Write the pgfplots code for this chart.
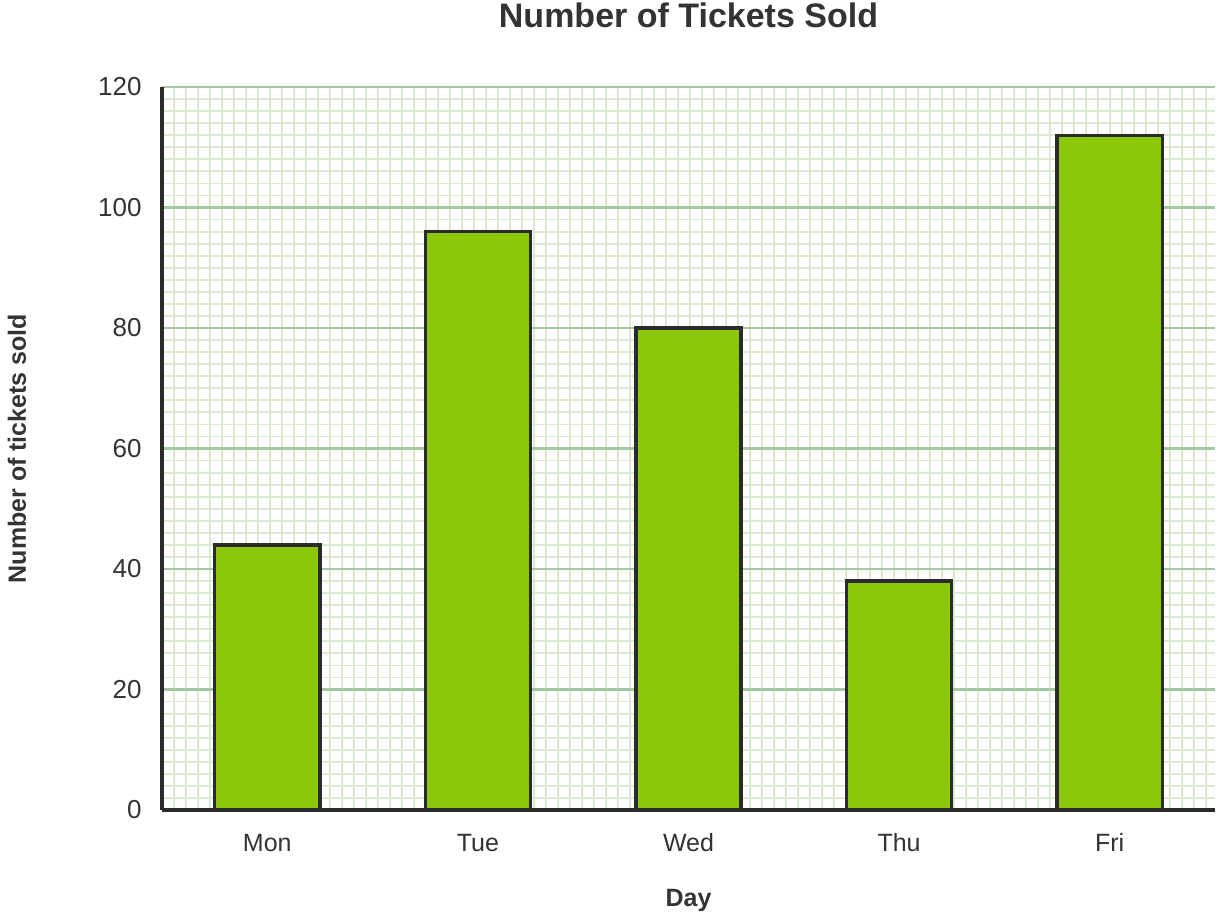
\documentclass[border=0pt]{standalone}
\usepackage{fontspec}
\setmainfont{Liberation Sans}
\usepackage{pgfplots}
\pgfplotsset{compat=1.18}
\definecolor{barfill}{HTML}{8BC80A}
\definecolor{bardraw}{HTML}{2B2B2B}
\definecolor{majgrid}{HTML}{A3C9A3}
\definecolor{mingrid}{HTML}{DCEBCF}
\definecolor{txt}{HTML}{333333}
\begin{document}
\begin{tikzpicture}
\begin{axis}[
  scale only axis, width=526.5pt, height=361.5pt,
  xmin=-0.5, xmax=4.5, ymin=0, ymax=120,
  ybar, bar width=0.5,
  axis x line=bottom, axis y line=left,
  axis line style={-, line width=2pt, color=bardraw},
  xtick={0,...,4}, xticklabels={Mon,Tue,Wed,Thu,Fri},
  ytick={0,20,...,120},
  minor y tick num=9,
  minor xtick={-0.5,-0.44302,...,4.5},
  xminorgrids=true, ymajorgrids=true, yminorgrids=true,
  major grid style={majgrid, line width=1.2pt},
  minor grid style={mingrid, line width=0.9pt},
  major tick length=0pt, minor tick length=0pt,
  /pgf/number format/assume math mode=true,
  yticklabel style={txt, font=\fontsize{13}{15}\selectfont, inner sep=0pt, anchor=east, xshift=-10pt},
  xticklabel style={txt, font=\fontsize{12.5}{15}\selectfont, inner sep=0pt, anchor=base, yshift=-20.5pt},
  title={Number of Tickets Sold},
  title style={txt, font=\fontsize{17}{20}\selectfont\bfseries, at={(axis description cs:0.5,1)}, anchor=center, yshift=30pt, inner sep=0pt},
  xlabel={Day},
  xlabel style={txt, font=\fontsize{12.5}{15}\selectfont\bfseries, at={(axis description cs:0.5,0)}, anchor=center, yshift=-45pt, inner sep=0pt},
  ylabel={Number of tickets sold},
  ylabel style={txt, font=\fontsize{12.5}{15}\selectfont\bfseries, at={(axis description cs:0,0.5)}, anchor=center, yshift=72.5pt, inner sep=0pt},
]
\addplot[fill=barfill, draw=bardraw, line width=1.7pt] coordinates {(0,44) (1,96) (2,80) (3,38) (4,112)};
\end{axis}
\pgfresetboundingbox
\path[use as bounding box] (-81pt,-54pt) rectangle (529pt,405pt);
\end{tikzpicture}
\end{document}
